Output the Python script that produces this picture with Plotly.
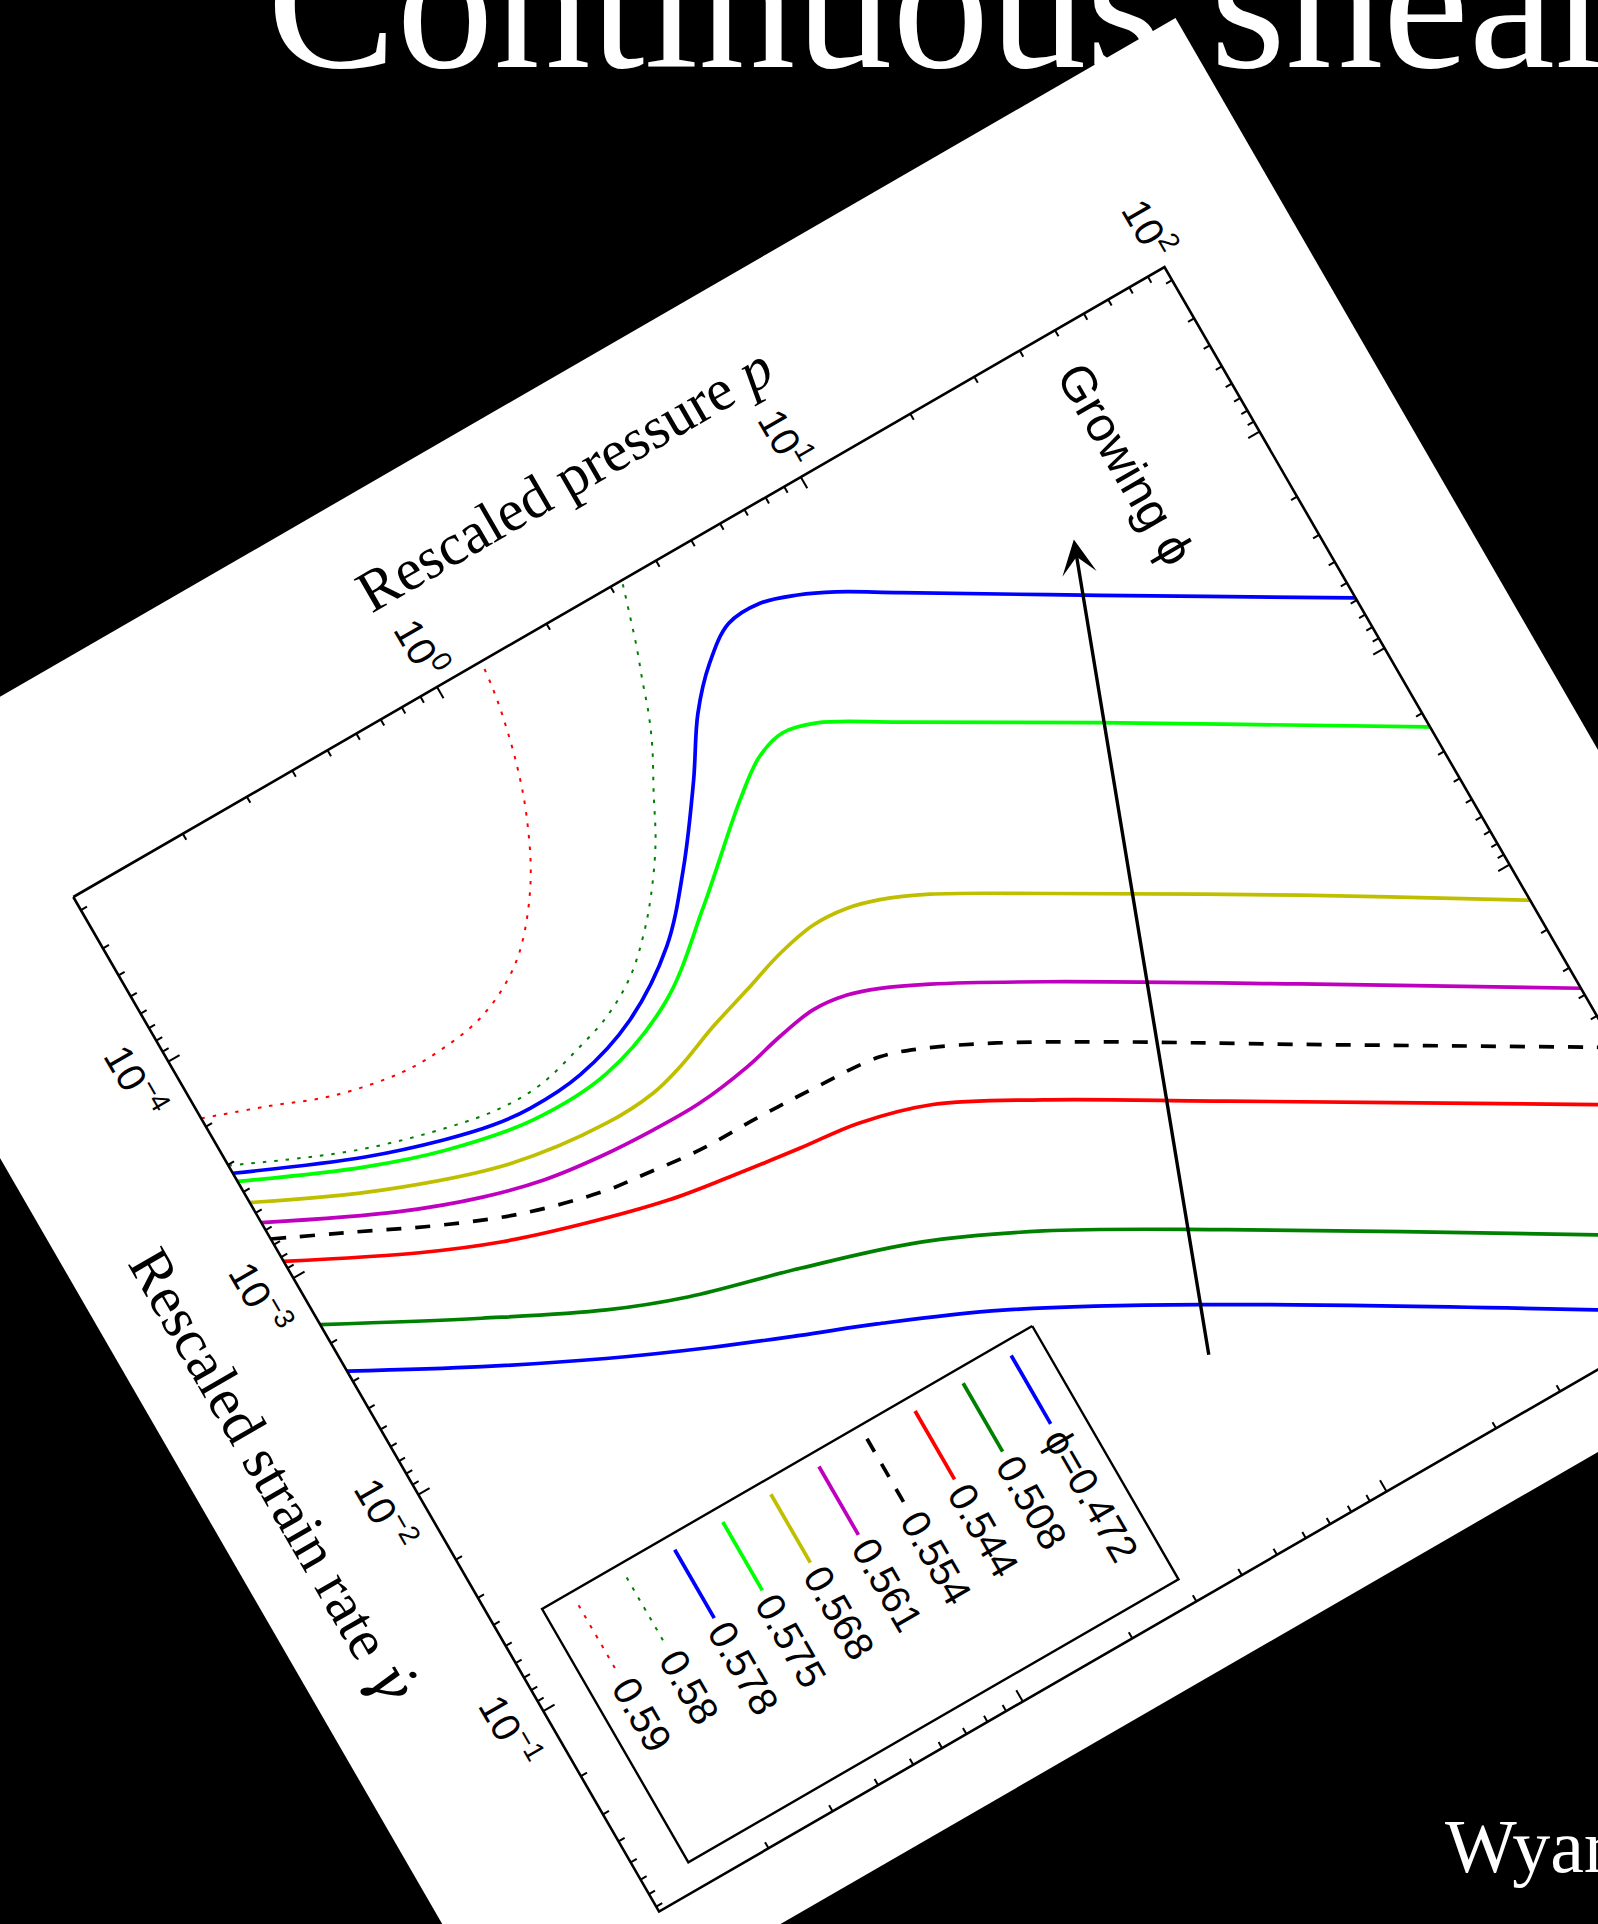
import math
import plotly.graph_objects as go

# ---------------------------------------------------------------------------
# Flow curves: rescaled strain rate (gamma dot) against rescaled pressure p,
# one curve per packing fraction phi.
# ---------------------------------------------------------------------------
phi_names = ["ϕ=0.472", "0.508", "0.544", "0.554", "0.561",
             "0.568", "0.575", "0.578", "0.58", "0.59"]

rate_0472 = [2.69e-3, 4.83e-3, 8.02e-3, 1.18e-2, 1.63e-2, 2.12e-2, 3.39e-2, 8.05e-2, 0.524, 1.2]
p_0472 = [0.1, 0.192, 0.354, 0.593, 0.948, 1.41, 2.66, 6.89, 44.9, 100]

rate_0508 = [1.64e-3, 3.28e-3, 5.45e-3, 7.18e-3, 9.55e-3, 1.35e-2, 2.17e-2, 5.01e-2, 0.288, 0.59]
p_0508 = [0.1, 0.219, 0.405, 0.622, 1.14, 2.17, 4.0, 9.62, 55.1, 112]

rate_0544 = [8.38e-4, 1.46e-3, 1.96e-3, 2.48e-3, 3.02e-3, 3.33e-3, 3.66e-3, 3.93e-3, 4.76e-3,
             7.62e-3, 1.80e-2, 0.102, 0.145]
p_0544 = [0.1, 0.195, 0.298, 0.465, 0.735, 1.05, 1.58, 2.24, 3.35, 5.73, 13.7, 78.9, 112]

rate_0554 = [6.6e-4, 9.29e-4, 1.29e-3, 1.72e-3, 2.10e-3, 2.20e-3, 2.34e-3, 2.36e-3, 2.42e-3,
             2.55e-3, 2.91e-3, 3.91e-3, 6.43e-3, 1.60e-2, 6.46e-2, 7.85e-2]
p_0554 = [0.1, 0.154, 0.232, 0.356, 0.561, 0.698, 0.979, 1.40, 1.99, 2.97, 3.73, 5.37, 9.08,
          22.6, 92.3, 112]

rate_0561 = [5.55e-4, 9.57e-4, 1.25e-3, 1.45e-3, 1.56e-3, 1.61e-3, 1.61e-3, 1.50e-3, 1.37e-3,
             1.29e-3, 1.34e-3, 1.48e-3, 1.80e-3, 3.02e-3, 9.89e-3, 3.72e-2, 4.0e-2]
p_0561 = [0.1, 0.198, 0.305, 0.430, 0.598, 0.830, 1.11, 1.54, 1.95, 2.46, 3.01, 3.59, 4.60,
          8.05, 26.7, 99.8, 107]

rate_0568 = [4.48e-4, 7.46e-4, 1.09e-3, 1.23e-3, 1.20e-3, 1.10e-3, 9.31e-4, 8.11e-4, 7.06e-4,
             6.56e-4, 6.70e-4, 7.28e-4, 8.79e-4, 1.50e-3, 4.86e-3, 1.45e-2, 1.56e-2]
p_0568 = [0.1, 0.194, 0.383, 0.676, 0.916, 1.12, 1.46, 1.90, 2.46, 3.11, 3.81, 4.57, 5.89, 10.3,
          34.0, 99.3, 107]

rate_0575 = [3.58e-4, 5.74e-4, 7.29e-4, 8.55e-4, 8.28e-4, 6.08e-4, 3.42e-4, 1.73e-4, 1.34e-4,
             1.23e-4, 1.33e-4, 1.94e-4, 4.89e-4, 2.29e-3, 2.45e-3]
p_0575 = [0.1, 0.191, 0.294, 0.482, 0.776, 1.26, 1.94, 3.09, 3.81, 4.54, 5.50, 8.19, 21.1, 98.9,
          106]

rate_0578 = [3.28e-4, 5.30e-4, 6.64e-4, 7.41e-4, 7.69e-4, 7.41e-4, 6.03e-4, 3.97e-4, 2.32e-4,
             1.19e-4, 7.13e-5, 5.05e-5, 4.01e-5, 3.94e-5, 4.39e-5, 5.11e-5, 6.92e-5, 1.77e-4,
             5.82e-4, 6.2e-4]
p_0578 = [0.1, 0.196, 0.298, 0.394, 0.490, 0.681, 1.00, 1.46, 1.95, 2.62, 3.21, 3.89, 4.75, 5.81,
          7.13, 8.63, 11.7, 29.9, 99.3, 106]

rate_0580 = [3.02e-4, 4.83e-4, 6.15e-4, 6.70e-4, 6.68e-4, 5.98e-4, 5.27e-4, 4.27e-4, 3.21e-4,
             2.42e-4, 1.65e-4, 1.10e-4, 7.53e-5, 5.68e-5, 4.24e-5, 3.16e-5, 2.34e-5, 1.87e-5,
             1.65e-5]
p_0580 = [0.1, 0.192, 0.318, 0.425, 0.548, 0.718, 0.906, 1.13, 1.36, 1.57, 1.84, 2.09, 2.36, 2.54,
          2.70, 2.88, 3.05, 3.18, 3.25]

rate_0590 = [1.83e-4, 2.25e-4, 2.81e-4, 3.20e-4, 3.19e-4, 2.98e-4, 2.51e-4, 2.01e-4, 1.25e-4,
             7.18e-5, 4.66e-5, 2.99e-5, 2.23e-5, 1.80e-5, 1.65e-5]
p_0590 = [0.1, 0.141, 0.200, 0.296, 0.383, 0.494, 0.621, 0.736, 0.918, 1.08, 1.18, 1.26, 1.30,
          1.32, 1.33]

# axis tick marks that carry labels
p_label_ticks = [1, 10, 100]
p_label_texts = ["10<sup>0</sup>", "10<sup>1</sup>", "10<sup>2</sup>"]
rate_label_ticks = [1e-4, 1e-3, 1e-2, 1e-1]
rate_label_texts = ["10<sup>−4</sup>", "10<sup>−3</sup>", "10<sup>−2</sup>", "10<sup>−1</sup>"]

# arrow and caption in data coordinates (rate, pressure)
arrow_tail = (0.1265, 6.24)
arrow_tip = (1.007e-4, 30.8)
caption_pos = (7.0e-5, 48.5)

series_rates = [rate_0472, rate_0508, rate_0544, rate_0554, rate_0561,
                rate_0568, rate_0575, rate_0578, rate_0580, rate_0590]
series_p = [p_0472, p_0508, p_0544, p_0554, p_0561,
            p_0568, p_0575, p_0578, p_0580, p_0590]

# line styles (colour, width, dash)
SOLID_W = 3.7
series_styles = [
    ("#0000ff", SOLID_W, "solid"),
    ("#008000", SOLID_W, "solid"),
    ("#ff0000", SOLID_W, "solid"),
    ("#000000", SOLID_W, "15px,14px"),
    ("#bf00bf", SOLID_W, "solid"),
    ("#bfbf00", SOLID_W, "solid"),
    ("#00ff00", SOLID_W, "solid"),
    ("#0000ff", SOLID_W, "solid"),
    ("#008000", 2.0, "3.5px,8px"),
    ("#ff0000", 2.0, "3.5px,8px"),
]

# ---------------------------------------------------------------------------
# Geometry of the tilted sheet: the log-log axes are drawn rotated by 30 deg.
# Local frame: a = distance along the strain-rate axis, b = along pressure axis.
# ---------------------------------------------------------------------------
FIG_W, FIG_H = 1598, 1924
ORIGIN = (73.3, 897.0)
TILT = math.radians(30.0)
EU = (math.sin(TILT), math.cos(TILT))      # increasing strain rate
EV = (math.cos(TILT), -math.sin(TILT))     # increasing pressure
LOG_RATE_MIN, LOG_RATE_MAX = -4.76, -0.074
LOG_P_MIN, LOG_P_MAX = -1.0, 2.0
PX_RATE_DECADE = 250.0
PX_P_DECADE = 420.0
LEN_A = (LOG_RATE_MAX - LOG_RATE_MIN) * PX_RATE_DECADE
LEN_B = (LOG_P_MAX - LOG_P_MIN) * PX_P_DECADE

SANS = "Liberation Sans, Arial, DejaVu Sans"
SERIF = "Liberation Serif, Times New Roman, DejaVu Serif"


def to_screen(a, b):
    return (ORIGIN[0] + a * EU[0] + b * EV[0], ORIGIN[1] + a * EU[1] + b * EV[1])


def data_to_local(rate, p):
    return ((math.log10(rate) - LOG_RATE_MIN) * PX_RATE_DECADE,
            (math.log10(p) - LOG_P_MIN) * PX_P_DECADE)


def data_to_screen(rate, p):
    return to_screen(*data_to_local(rate, p))


def clip_segment(p0, p1):
    x0, y0 = p0
    dx, dy = p1[0] - x0, p1[1] - y0
    t0, t1 = 0.0, 1.0
    for pp, q in ((-dx, x0), (dx, LEN_A - x0), (-dy, y0), (dy, LEN_B - y0)):
        if pp == 0:
            if q < 0:
                return None
        else:
            r = q / pp
            if pp < 0:
                if r > t1:
                    return None
                t0 = max(t0, r)
            else:
                if r < t0:
                    return None
                t1 = min(t1, r)
    return (x0 + t0 * dx, y0 + t0 * dy), (x0 + t1 * dx, y0 + t1 * dy)


def clip_polyline(pts):
    pieces, cur = [], []
    for p0, p1 in zip(pts[:-1], pts[1:]):
        seg = clip_segment(p0, p1)
        if seg is None:
            if cur:
                pieces.append(cur)
                cur = []
            continue
        q0, q1 = seg
        if cur and math.hypot(cur[-1][0] - q0[0], cur[-1][1] - q0[1]) < 1e-6:
            cur.append(q1)
        else:
            if cur:
                pieces.append(cur)
            cur = [q0, q1]
    if cur:
        pieces.append(cur)
    return pieces


fig = go.Figure()


def add_line(local_pts, color, width, dash="solid", shape="linear", fill=None, fillcolor=None):
    xs, ys = [], []
    for pt in local_pts:
        if pt is None:
            xs.append(None)
            ys.append(None)
        else:
            sx, sy = to_screen(*pt)
            xs.append(sx)
            ys.append(sy)
    fig.add_trace(go.Scatter(
        x=xs, y=ys, mode="lines", hoverinfo="skip", showlegend=False,
        line=dict(color=color, width=width, dash=dash, shape=shape, smoothing=1.0),
        fill=fill, fillcolor=fillcolor))


def add_text(local_pt, text, size, family, angle, color="black"):
    sx, sy = to_screen(*local_pt)
    fig.add_annotation(x=sx, y=sy, xref="x", yref="y", text=text, showarrow=False,
                       textangle=angle, xanchor="center", yanchor="middle",
                       font=dict(size=size, family=family, color=color))


# white sheet carrying the figure
sheet = [(-210, -194), (1243, -194), (1243, 1394), (-210, 1394)]
sheet_scr = [to_screen(a, b) for a, b in sheet]
path = "M " + " L ".join(f"{x:.1f},{y:.1f}" for x, y in sheet_scr) + " Z"
fig.add_shape(type="path", path=path, xref="x", yref="y", fillcolor="white",
              line=dict(width=0), layer="below")

# flow curves
for rates, ps, (color, width, dash) in zip(series_rates, series_p, series_styles):
    local = [data_to_local(r, p) for r, p in zip(rates, ps)]
    for piece in clip_polyline(local):
        add_line(piece, color, width, dash, shape="spline")

# axes box
add_line([(0, 0), (LEN_A, 0), (LEN_A, LEN_B), (0, LEN_B), (0, 0)], "black", 2.6)

# log ticks on all four sides, pointing inwards
MAJOR, MINOR = 13.0, 7.0
tick_pts = []
for k in range(-2, 3):
    for m in range(1, 10):
        b = (math.log10(m * 10.0 ** k) - LOG_P_MIN) * PX_P_DECADE
        if 1.0 < b < LEN_B - 1.0:
            ln = MAJOR if m == 1 else MINOR
            tick_pts += [(0, b), (ln, b), None, (LEN_A, b), (LEN_A - ln, b), None]
for k in range(-6, 1):
    for m in range(1, 10):
        a = (math.log10(m * 10.0 ** k) - LOG_RATE_MIN) * PX_RATE_DECADE
        if 1.0 < a < LEN_A - 1.0:
            ln = MAJOR if m == 1 else MINOR
            tick_pts += [(a, 0), (a, ln), None, (a, LEN_B), (a, LEN_B - ln), None]
add_line(tick_pts, "black", 2.0)

# tick labels
TICK_FONT = 40
for val, txt in zip(p_label_ticks, p_label_texts):
    b = (math.log10(val) - LOG_P_MIN) * PX_P_DECADE
    add_text((-42, b + 7), txt, TICK_FONT, SANS, 60)
for val, txt in zip(rate_label_ticks, rate_label_texts):
    a = (math.log10(val) - LOG_RATE_MIN) * PX_RATE_DECADE
    add_text((a, -37.5), txt, TICK_FONT, SANS, 60)

# axis titles
add_text((-116.5, 634.7), "Rescaled pressure <i>p</i>", 59, SERIF, -30)
add_text((601, -116.5),
         "Rescaled strain rate <span style=\"font-family:DejaVu Serif\"><i>γ̇</i></span>",
         59, SERIF, 60)

# legend (lower-right corner of the axes)
LEG_A0, LEG_B1 = 851.0, 616.0
LEG_W, LEG_H = 292.5, 566.0
add_line([(LEG_A0, LEG_B1), (LEG_A0 + LEG_W, LEG_B1), (LEG_A0 + LEG_W, LEG_B1 - LEG_H),
          (LEG_A0, LEG_B1 - LEG_H), (LEG_A0, LEG_B1)], "black", 2.4,
         fill="toself", fillcolor="white")
CHAR_EM = {"ϕ": 0.6, "=": 0.584, ".": 0.278}
LEG_FONT = 40
for i, (name, (color, width, dash)) in enumerate(zip(phi_names, series_styles)):
    b = LEG_B1 - 33.0 - 55.5 * i
    add_line([(LEG_A0 + 15, b), (LEG_A0 + 94, b)], color, width, dash)
    text_len = sum(CHAR_EM.get(c, 0.556) for c in name) * LEG_FONT
    add_text((LEG_A0 + 102 + text_len / 2, b), name, LEG_FONT, SANS, 60)

# "Growing phi" arrow
tail = data_to_screen(*arrow_tail)
tip = data_to_screen(*arrow_tip)
fig.add_annotation(x=tip[0], y=tip[1], ax=tail[0], ay=tail[1], xref="x", yref="y",
                   axref="x", ayref="y", text="", showarrow=True, arrowhead=3,
                   arrowsize=1.7, arrowwidth=3.4, arrowcolor="black", standoff=0)
add_text(data_to_local(*caption_pos), "Growing ϕ", 49, SANS, 60)

# slide texts
fig.add_annotation(x=265, y=1.5, xref="x", yref="y", text="Continuous shear thickening",
                   showarrow=False, xanchor="left", yanchor="middle",
                   font=dict(size=194, family=SERIF, color="white"))
fig.add_annotation(x=1443, y=1846, xref="x", yref="y", text="Wyart and Cates",
                   showarrow=False, xanchor="left", yanchor="middle",
                   font=dict(size=76, family=SERIF, color="white"))

fig.update_layout(
    width=FIG_W, height=FIG_H,
    margin=dict(l=0, r=0, t=0, b=0, pad=0),
    paper_bgcolor="black", plot_bgcolor="black",
    xaxis=dict(range=[0, FIG_W], visible=False, fixedrange=True),
    yaxis=dict(range=[FIG_H, 0], visible=False, fixedrange=True),
    showlegend=False,
)

fig.write_html("out.html")
